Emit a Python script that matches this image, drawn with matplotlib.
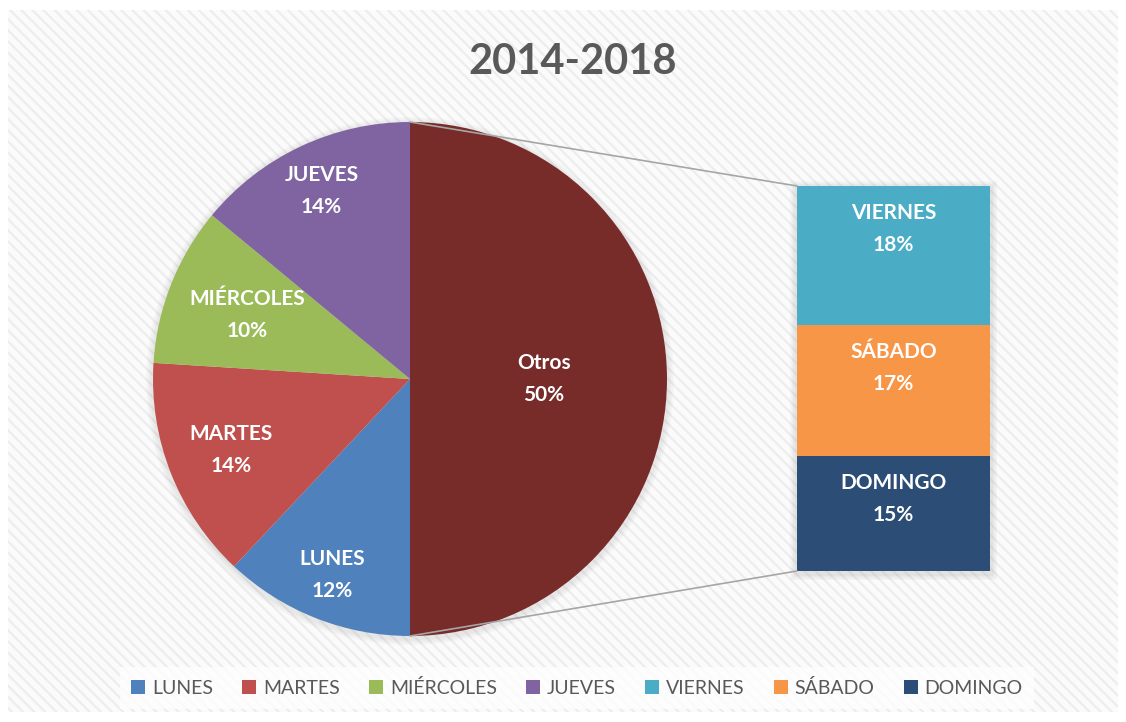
import numpy as np
import matplotlib.pyplot as plt
from matplotlib.patches import Rectangle, Patch, ConnectionPatch, Circle

plt.rcParams['font.family'] = ['Lato', 'DejaVu Sans']
plt.rcParams['hatch.linewidth'] = 1.6

# data
pie_labels = ['Otros', 'LUNES', 'MARTES', 'MIÉRCOLES', 'JUEVES']
pie_values = [50, 12, 14, 10, 14]
pie_colors = ['#772C2A', '#4F81BD', '#C0504D', '#9BBB59', '#8064A2']

bar_labels = ['DOMINGO', 'SÁBADO', 'VIERNES']
bar_values = [15, 17, 18]
bar_colors = ['#2C4D75', '#F79646', '#4BACC6']

legend_labels = ['LUNES', 'MARTES', 'MIÉRCOLES', 'JUEVES', 'VIERNES', 'SÁBADO', 'DOMINGO']
legend_colors = ['#4F81BD', '#C0504D', '#9BBB59', '#8064A2', '#4BACC6', '#F79646', '#2C4D75']

W, H = 1126, 722
fig = plt.figure(figsize=(W / 100, H / 100), dpi=100)
fig.patch.set_facecolor('white')


def px_axes(x0, y0, x1, y1):
    # box given in pixels, y measured from the top
    return fig.add_axes([x0 / W, 1 - y1 / H, (x1 - x0) / W, (y1 - y0) / H])


# hatched chart background
bg = px_axes(0, 0, W, H)
bg.set_xlim(0, W)
bg.set_ylim(H, 0)
bg.axis('off')
bg.add_patch(Rectangle((8, 10), 1110, 702, facecolor='#FBFBFB',
                       edgecolor='#EDEDED', hatch='\\\\\\', lw=0))
# soft shadows behind the bar and the pie
for i in range(4):
    d = 7 - i * 1.5
    bg.add_patch(Rectangle((797 - d, 186 - d + 2), 193 + 2 * d, 385 + 2 * d,
                           facecolor='#808080', alpha=0.05, lw=0))
    bg.add_patch(Circle((410, 381), 257 + d, facecolor='#808080', alpha=0.04, lw=0))

# pie
r = 257
cx, cy = 410, 379
pax = px_axes(cx - r, cy - r, cx + r, cy + r)
pax.pie(pie_values, colors=pie_colors, startangle=90, counterclock=False,
        radius=1, wedgeprops=dict(linewidth=0))
pax.set_xlim(-1, 1)
pax.set_ylim(-1, 1)

dists = [0.52, 0.82, 0.75, 0.68, 0.81]
total = sum(pie_values)
cum = 0
for lab, v, d in zip(pie_labels, pie_values, dists):
    ang = np.deg2rad(90 - 360 * (cum + v / 2) / total)
    cum += v
    pax.text(d * np.cos(ang), d * np.sin(ang), f'{lab}\n{v}%', ha='center',
             va='center', color='white', fontsize=15, fontweight='bold',
             linespacing=1.75)

# bar of the "Otros" slice
bax = px_axes(797, 186, 990, 571)
bottoms = np.cumsum([0] + bar_values[:-1])
bax.bar(0, bar_values, bottom=bottoms, width=1, color=bar_colors, linewidth=0)
bax.set_xlim(-0.5, 0.5)
bax.set_ylim(0, sum(bar_values))
bax.axis('off')
for lab, v, b in zip(bar_labels, bar_values, bottoms):
    bax.text(0, b + v - 5.6, f'{lab}\n{v}%', ha='center', va='center',
             color='white', fontsize=15, fontweight='bold', linespacing=1.75)

# connector lines
for ya, yb in [(1, sum(bar_values)), (-1, 0)]:
    con = ConnectionPatch(xyA=(0, ya), coordsA=pax.transData,
                          xyB=(-0.5, yb), coordsB=bax.transData,
                          color='#A6A6A6', lw=1.2)
    fig.add_artist(con)

fig.text(573 / W, 1 - 62 / H, '2014-2018', ha='center', va='center',
         fontsize=30, fontweight='bold', color='#595959')

handles = [Patch(facecolor=c, label=l) for l, c in zip(legend_labels, legend_colors)]
leg = fig.legend(handles=handles, loc='center', bbox_to_anchor=(577 / W, 1 - 688 / H),
                 ncol=7, fontsize=14, frameon=True, fancybox=False,
                 handlelength=0.72, handleheight=0.72, handletextpad=0.35,
                 columnspacing=1.5, labelcolor='#595959', borderpad=0.6)
leg.get_frame().set_facecolor('white')
leg.get_frame().set_alpha(0.75)
leg.get_frame().set_linewidth(0)

fig.savefig('out.png', dpi=100)
